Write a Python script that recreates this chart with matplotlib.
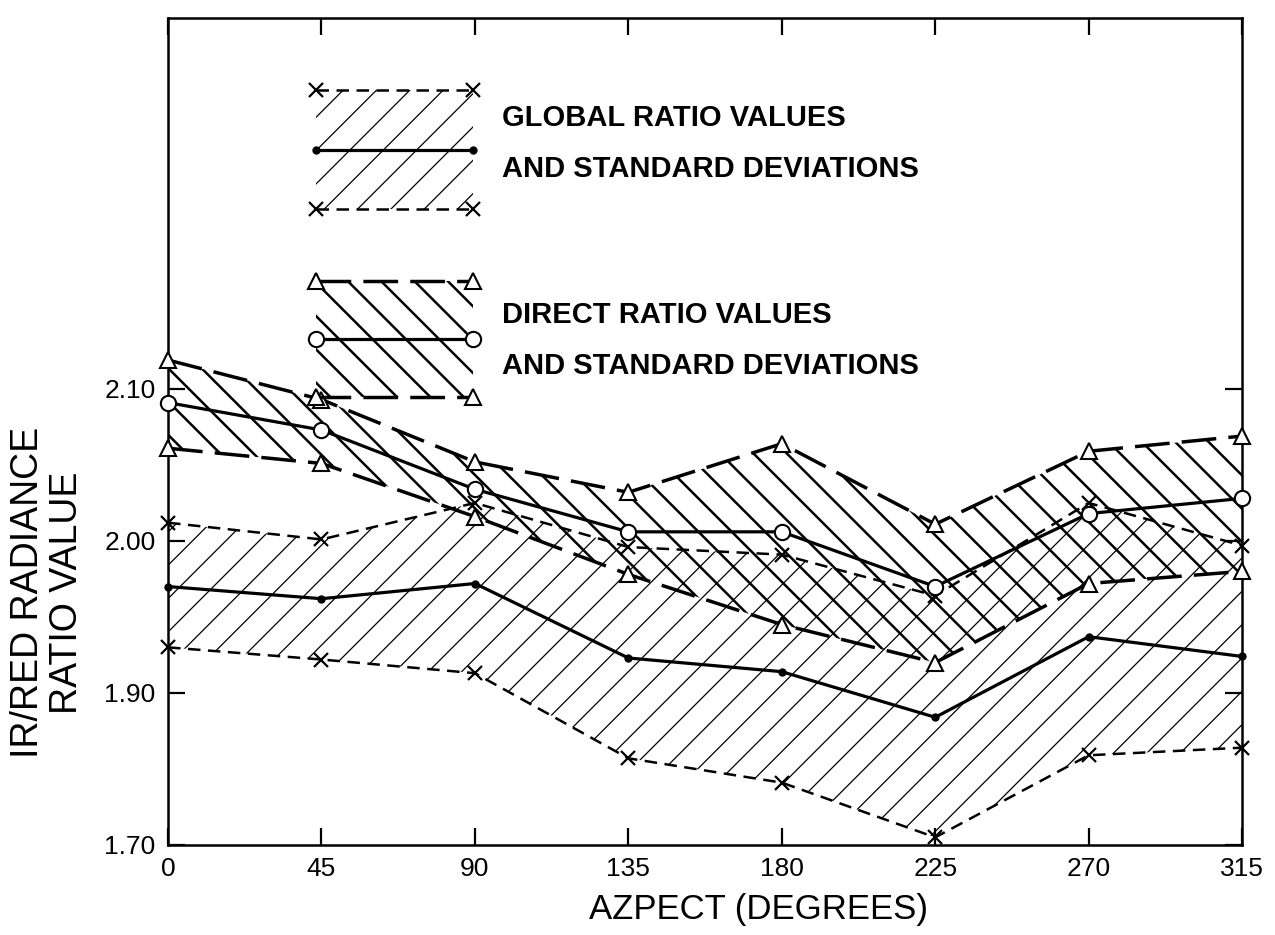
import matplotlib
matplotlib.use("Agg")
import matplotlib.pyplot as plt
import numpy as np

plt.rcParams['font.family'] = ['Liberation Sans', 'DejaVu Sans']

# values (axis units as drawn: the bottom tick is labelled 1.70)
azimuth = [0, 45, 90, 135, 180, 225, 270, 315]
global_mean = [1.970, 1.962, 1.972, 1.923, 1.914, 1.884, 1.937, 1.924]
global_upper = [2.012, 2.001, 2.025, 1.996, 1.991, 1.964, 2.025, 1.997]
global_lower = [1.930, 1.922, 1.913, 1.857, 1.841, 1.805, 1.859, 1.864]
direct_mean = [2.091, 2.073, 2.034, 2.006, 2.006, 1.970, 2.018, 2.028]
direct_upper = [2.119, 2.093, 2.052, 2.032, 2.064, 2.011, 2.059, 2.069]
direct_lower = [2.061, 2.051, 2.016, 1.978, 1.945, 1.920, 1.972, 1.980]

y_ticks = [1.80, 1.90, 2.00, 2.10]
y_tick_labels = ['1.70', '1.90', '2.00', '2.10']

GLOBAL_DASH = (0, (5, 3))
DIRECT_DASH = (0, (10, 3.5))


def hatched_band(a, x, lo, hi, hatch, hatch_lw):
    with plt.rc_context({'hatch.linewidth': hatch_lw, 'hatch.color': 'black'}):
        band = a.fill_between(x, lo, hi, facecolor='none', edgecolor='black',
                              linewidth=0, hatch=hatch)
    if hasattr(band, 'set_hatch_linewidth'):
        band.set_hatch_linewidth(hatch_lw)
    return band


def draw_global(a, x, lo, mid, hi, clip=True):
    hatched_band(a, x, lo, hi, '/', 0.9)
    for yy in (hi, lo):
        a.plot(x, yy, color='black', lw=1.8, linestyle=GLOBAL_DASH,
               marker='x', ms=10, mew=1.6, clip_on=clip, zorder=3)
    a.plot(x, mid, color='black', lw=2.3, marker='o', ms=5, clip_on=clip, zorder=3)


def draw_direct(a, x, lo, mid, hi, clip=True):
    hatched_band(a, x, lo, hi, '\\', 1.8)
    for yy in (hi, lo):
        a.plot(x, yy, color='black', lw=2.5, linestyle=DIRECT_DASH,
               marker='^', ms=11, mfc='white', mec='black', mew=1.5,
               clip_on=clip, zorder=4)
    a.plot(x, mid, color='black', lw=2.3, marker='o', ms=11, mfc='white',
           mec='black', mew=1.5, clip_on=clip, zorder=4)


fig = plt.figure(figsize=(12.75, 9.35), dpi=100)
ax = fig.add_axes([0.1318, 0.0963, 0.8424, 0.8844])

draw_global(ax, azimuth, global_lower, global_mean, global_upper, clip=False)
draw_direct(ax, azimuth, direct_lower, direct_mean, direct_upper, clip=False)

ax.set_xlim(0, 315)
ax.set_ylim(1.80, 2.344)
ax.set_xticks(azimuth)
ax.set_xticklabels([str(a) for a in azimuth])
ax.set_yticks(y_ticks)
ax.set_yticklabels(y_tick_labels)
ax.tick_params(direction='in', length=12, width=1.6, top=True, right=True,
               labelsize=19, pad=9)
for s in ax.spines.values():
    s.set_linewidth(1.8)

# legend keys
key_g = ax.inset_axes([0.138, 0.769, 0.146, 0.144])
key_d = ax.inset_axes([0.138, 0.542, 0.146, 0.140])
for k in (key_g, key_d):
    k.set_xlim(0, 1)
    k.set_ylim(0, 1)
    k.axis('off')
draw_global(key_g, [0, 1], [0, 0], [0.5, 0.5], [1, 1], clip=False)
draw_direct(key_d, [0, 1], [0, 0], [0.5, 0.5], [1, 1], clip=False)

legend_font = dict(fontsize=21, fontweight='bold', family=['Liberation Sans Narrow', 'Liberation Sans'],
                   transform=ax.transAxes, va='center', ha='left')
ax.text(0.311, 0.879, 'GLOBAL RATIO VALUES', **legend_font)
ax.text(0.311, 0.817, 'AND STANDARD DEVIATIONS', **legend_font)
ax.text(0.311, 0.641, 'DIRECT RATIO VALUES', **legend_font)
ax.text(0.311, 0.579, 'AND STANDARD DEVIATIONS', **legend_font)

fig.text(0.022, 0.366, 'IR/RED RADIANCE', rotation=90, fontsize=27,
         ha='center', va='center')
fig.text(0.0525, 0.366, 'RATIO VALUE', rotation=90, fontsize=27,
         ha='center', va='center')
fig.text(0.595, 0.027, 'AZPECT (DEGREES)', fontsize=25, ha='center', va='center')

fig.savefig('out.png', dpi=100)
